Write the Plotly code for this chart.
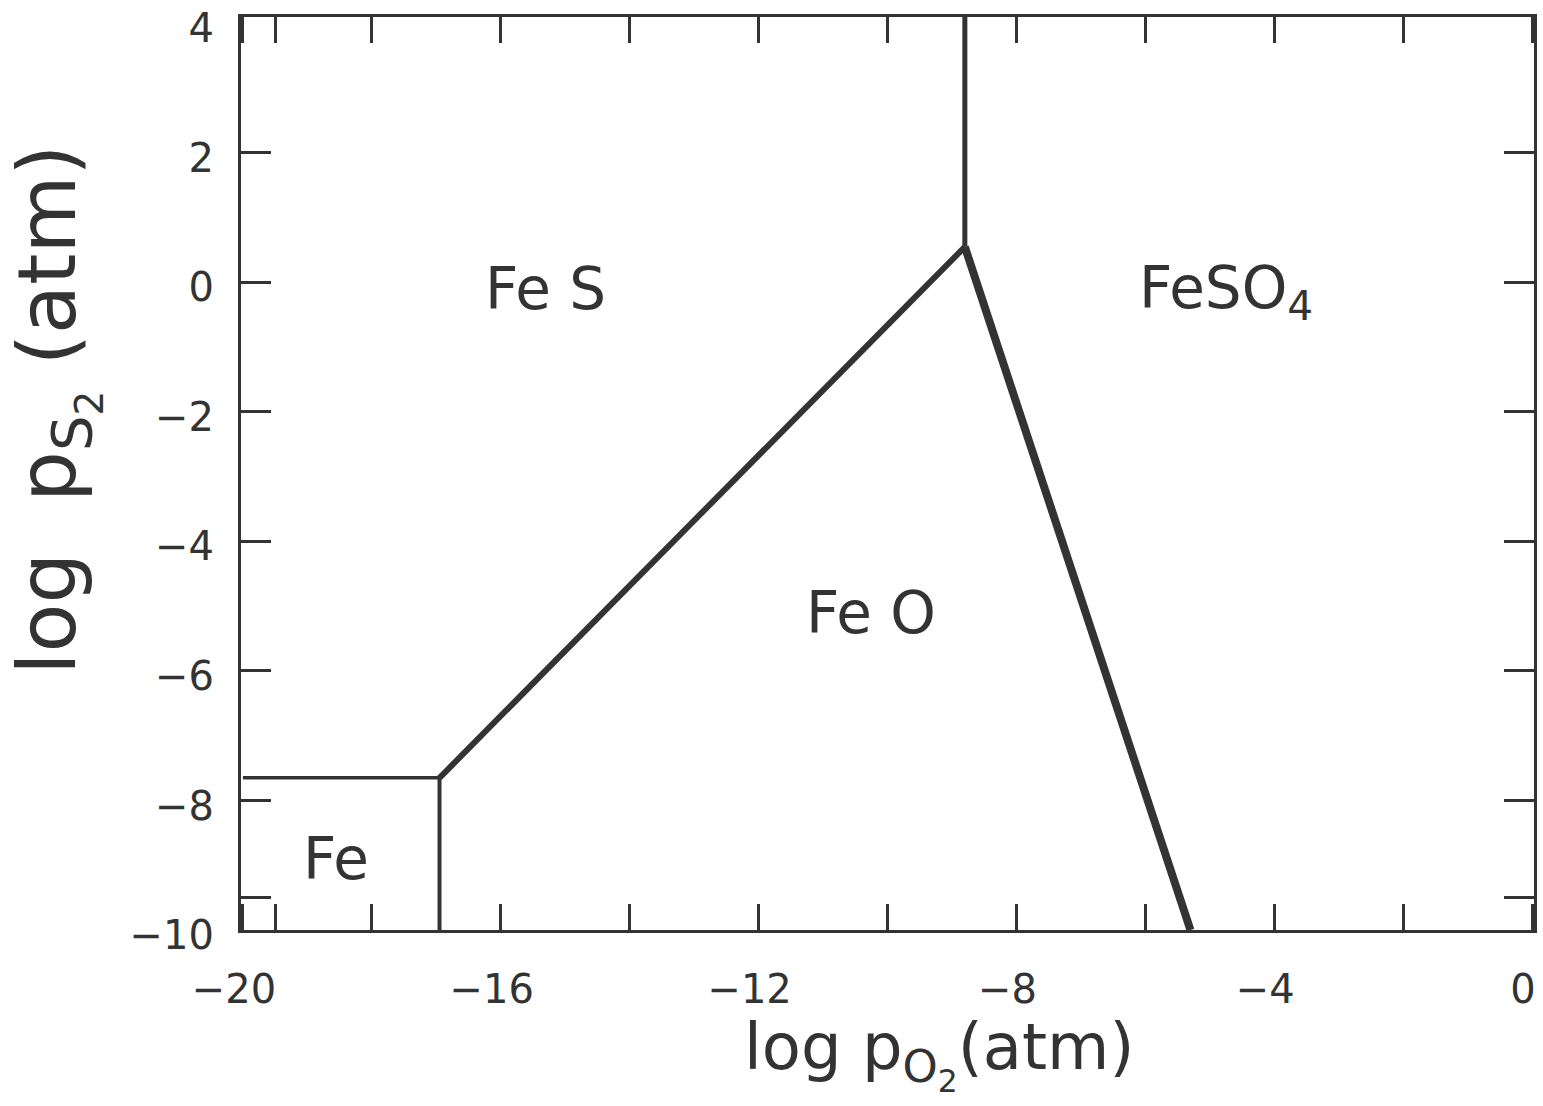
import plotly.graph_objects as go

# Phase boundaries (log pO2, log pS2)
fe_fes_x = [-20.0, -16.95]
fe_fes_y = [-7.65, -7.65]
fe_feo_x = [-16.95, -16.95]
fe_feo_y = [-10.0, -7.65]
fes_feo_x = [-16.95, -8.8]
fes_feo_y = [-7.65, 0.55]
fes_feso4_x = [-8.8, -8.8]
fes_feso4_y = [0.55, 4.1]
feo_feso4_x = [-8.8, -5.3]
feo_feso4_y = [0.55, -10.0]

# Phase field labels
phase_names = ["Fe S", "FeSO<sub>4</sub>", "Fe O", "Fe"]
phase_x = [-15.3, -4.75, -10.25, -18.55]
phase_y = [-0.1, -0.15, -5.1, -8.9]

x_tickvals = [-20, -16, -12, -8, -4, 0]
x_ticktext = ["\u221220", "\u221216", "\u221212", "\u22128", "\u22124", "0"]
x_minor = [-19.5, -18, -14, -10, -6, -2]
y_tickvals = [4, 2, 0, -2, -4, -6, -8, -10]
y_ticktext = ["4", "2", "0", "\u22122", "\u22124", "\u22126", "\u22128", "\u221210"]
y_tickmarks = [2, 0, -2, -4, -6, -8, -9.5]

INK = "#333333"
FONT = "DejaVu Sans"

fig = go.Figure()
segs = [
    (fe_fes_x, fe_fes_y, 3.5),
    (fe_feo_x, fe_feo_y, 4),
    (fes_feo_x, fes_feo_y, 6),
    (fes_feso4_x, fes_feso4_y, 5),
    (feo_feso4_x, feo_feso4_y, 8),
]
for xs, ys, w in segs:
    fig.add_trace(go.Scatter(x=xs, y=ys, mode="lines",
                             line=dict(color=INK, width=w),
                             showlegend=False, hoverinfo="skip"))

for name, px, py in zip(phase_names, phase_x, phase_y):
    fig.add_annotation(x=px, y=py, text=name, showarrow=False,
                       font=dict(family=FONT, size=58, color=INK))

fig.add_annotation(x=0.54, y=-0.085, xref="paper", yref="paper",
                   text="log p<sub>O<sub>2</sub></sub>(atm)", showarrow=False,
                   font=dict(family=FONT, size=64, color=INK),
                   xanchor="center", yanchor="top")
fig.add_annotation(x=-0.143, y=0.57, xref="paper", yref="paper",
                   text="log\u00a0\u00a0p<sub>S<sub>2</sub></sub>\u00a0(atm)",
                   showarrow=False, textangle=-90,
                   font=dict(family=FONT, size=80, color=INK),
                   xanchor="center", yanchor="middle")

axis_common = dict(showgrid=False, zeroline=False, showline=True,
                   linecolor=INK, linewidth=3, mirror="ticks",
                   ticklabeloverflow="allow", automargin=False,
                   tickfont=dict(family=FONT, size=40, color=INK))

fig.update_xaxes(range=[-20.03, 0.03], tickmode="array", tickvals=x_tickvals,
                 ticktext=x_ticktext, ticks="inside", ticklen=26,
                 tickcolor=INK, tickwidth=2.5, ticklabelstandoff=22,
                 ticklabelshift=-9,
                 minor=dict(tickvals=x_minor, ticks="inside", ticklen=26,
                            tickcolor=INK, tickwidth=2.5),
                 **axis_common)
fig.update_yaxes(range=[-10.0, 4.1], tickmode="array", tickvals=y_tickvals,
                 ticktext=y_ticktext, ticks="inside", ticklen=30,
                 tickcolor="rgba(0,0,0,0)", tickwidth=0.1,
                 ticklabelstandoff=16, ticklabelshift=5,
                 minor=dict(tickvals=y_tickmarks, ticks="inside", ticklen=30,
                            tickcolor=INK, tickwidth=2.5),
                 **axis_common)

fig.update_layout(width=1543, height=1106,
                  margin=dict(l=241, r=9, t=17, b=176),
                  paper_bgcolor="white", plot_bgcolor="white")

fig.write_html("out.html")
